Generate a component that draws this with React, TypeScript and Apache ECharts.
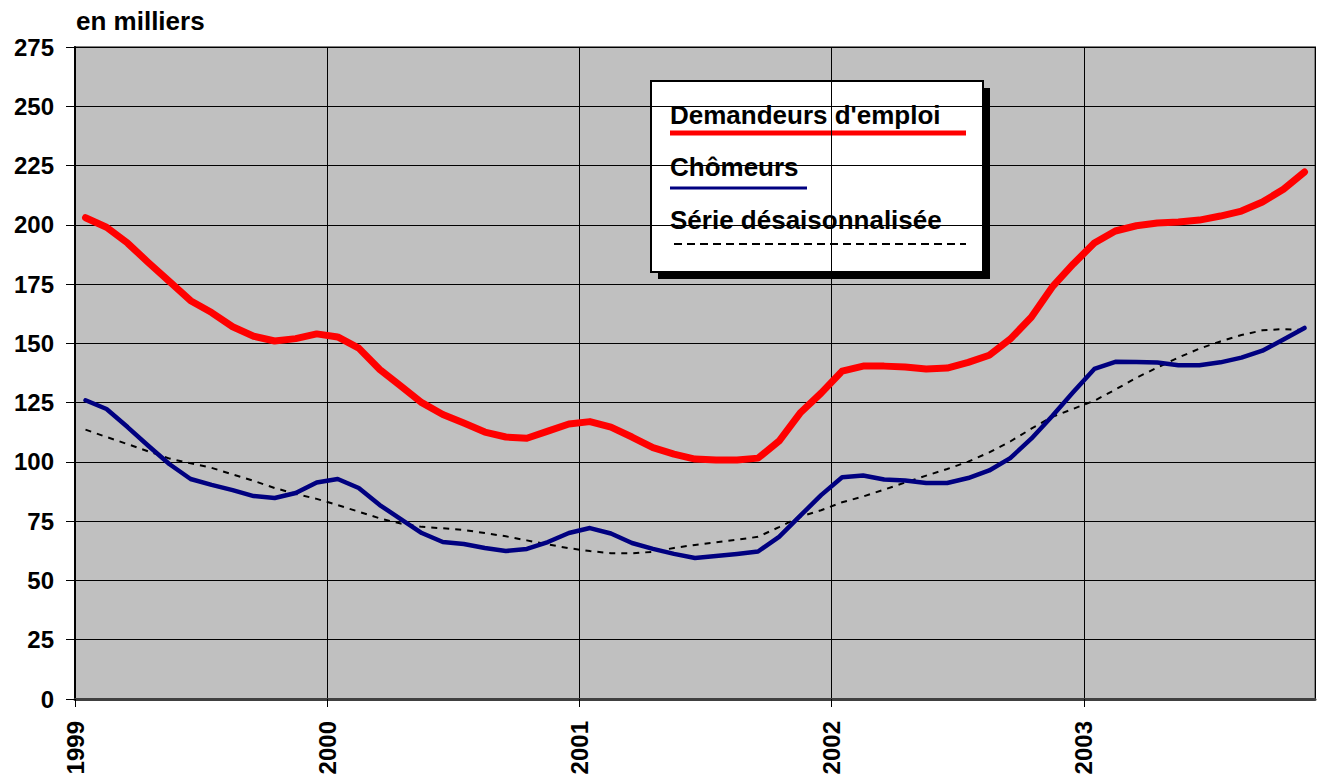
import React, { useEffect, useRef } from "react";
import * as echarts from "echarts";

const years = ["1999", "2000", "2001", "2002", "2003"];
const yTicks = [0, 25, 50, 75, 100, 125, 150, 175, 200, 225, 250, 275];

const demandeurs = [
  203, 199, 192.3, 184, 176, 168, 163, 157, 153, 151, 152, 154,
  152.7, 148, 139, 132, 125, 120, 116.4, 112.6, 110.5, 110, 113, 116,
  117, 114.7, 110.5, 106, 103.3, 101.2, 100.8, 100.8, 101.6, 108.8, 120.6, 129,
  138.3, 140.4, 140.4, 140, 139.2, 139.6, 142, 145, 151.8, 161, 173.8, 183.5,
  192.3, 197.4, 199.6, 200.8, 201.2, 202, 203.7, 205.8, 209.6, 215, 222.3,
];

const chomeurs = [
  126, 122.3, 114.7, 106.7, 99, 92.8, 90.3, 88.1, 85.6, 84.8, 86.9, 91.3,
  92.8, 89, 81.8, 75.9, 70, 66.2, 65.4, 63.7, 62.4, 63.3, 66.2, 70,
  72.1, 69.8, 65.8, 63.3, 61.2, 59.5, 60.3, 61.2, 62.2, 68.4, 77.2, 86,
  93.5, 94.3, 92.6, 92.2, 91.1, 91.1, 93.2, 96.4, 101.6, 109.8, 119.4, 129.5,
  139.2, 142.2, 142.1, 141.9, 140.8, 140.8, 142, 144, 146.9, 151.6, 156.5,
];

const desaison = [
  113.6, 110.5, 107.5, 104.4, 101.4, 99.4, 97.5, 94.7, 92, 89, 86.5, 84.4,
  81.8, 79, 76.2, 74, 72.6, 72, 71.3, 70, 68.6, 66.9, 65.2, 63.6,
  62.4, 61.5, 61.4, 62.1, 63.7, 65, 66.1, 67.2, 68.4, 72.5, 76.9, 79.6,
  83, 85.4, 88.3, 91.3, 94.2, 97, 100.1, 104, 108.6, 114, 119, 122.4,
  125.8, 130.5, 135.5, 139.8, 144, 147.8, 150.8, 153.5, 155.5, 156, 155.6,
];

const legendNames = ["Demandeurs d'emploi", "Chômeurs", "Série désaisonnalisée"];
const colors = ["#FF0000", "#000080", "#000000"];

const toPoints = (arr: number[]) => arr.map((v, i) => [i + 0.5, v]);

export default function App() {
  const ref = useRef<HTMLDivElement>(null);
  useEffect(() => {
    if (!ref.current) return;
    const chart = echarts.init(ref.current, null, { renderer: "svg" });
    const font = "'Liberation Sans', Arial, sans-serif";
    const nMonths = demandeurs.length;
    chart.setOption({
      animation: false,
      backgroundColor: "#FFFFFF",
      textStyle: { fontFamily: font },
      grid: {
        left: 75,
        top: 47,
        width: 1240,
        height: 652,
        show: true,
        backgroundColor: "#C0C0C0",
        borderColor: "#808080",
        borderWidth: 2,
      },
      xAxis: {
        type: "value",
        min: 0,
        max: nMonths,
        interval: 12,
        axisLine: { show: true, onZero: false, lineStyle: { color: "#404040", width: 3 } },
        axisTick: { show: true, length: 8, lineStyle: { color: "#000", width: 1 } },
        splitLine: { show: true, lineStyle: { color: "#000", width: 1 } },
        axisLabel: {
          rotate: 90,
          margin: 22,
          fontSize: 24,
          fontWeight: "bold",
          color: "#000",
          fontFamily: font,
          showMaxLabel: false,
          formatter: (v: number) =>
            v % 12 === 0 && v / 12 < years.length ? years[v / 12] : "",
        },
      },
      yAxis: {
        type: "value",
        min: yTicks[0],
        max: yTicks[yTicks.length - 1],
        interval: 25,
        axisLine: { show: true, lineStyle: { color: "#000", width: 2 } },
        axisTick: { show: true, length: 9, lineStyle: { color: "#000", width: 1 } },
        splitLine: { show: true, lineStyle: { color: "#000", width: 1 } },
        axisLabel: {
          margin: 21,
          fontSize: 24,
          fontWeight: "bold",
          color: "#000",
          fontFamily: font,
        },
      },
      series: [
        {
          name: legendNames[2],
          type: "line",
          data: toPoints(desaison),
          symbol: "none",
          lineStyle: { color: colors[2], width: 2, type: [6, 6] },
          z: 3,
        },
        {
          name: legendNames[1],
          type: "line",
          data: toPoints(chomeurs),
          symbol: "none",
          lineStyle: { color: colors[1], width: 4.5, cap: "round", join: "round" },
          z: 4,
        },
        {
          name: legendNames[0],
          type: "line",
          data: toPoints(demandeurs),
          symbol: "none",
          lineStyle: { color: colors[0], width: 7, cap: "round", join: "round" },
          z: 5,
        },
      ],
      graphic: [
        {
          type: "text",
          left: 76,
          top: 8,
          style: {
            text: "en milliers",
            font: `bold 26px ${font}`,
            fill: "#000",
          },
        },
        {
          type: "group",
          left: 650,
          top: 80,
          z: 100,
          children: [
            {
              type: "rect",
              shape: { x: 7, y: 7, width: 332, height: 191 },
              style: { fill: "#000" },
            },
            {
              type: "rect",
              shape: { x: 0, y: 0, width: 332, height: 191 },
              style: { fill: "#FFFFFF", stroke: "#000", lineWidth: 2 },
            },
            {
              type: "text",
              x: 19,
              y: 47,
              style: {
                text: legendNames[0],
                font: `bold 26px ${font}`,
                fill: "#000",
                textVerticalAlign: "bottom",
              },
            },
            {
              type: "line",
              shape: { x1: 19, y1: 52, x2: 315, y2: 52 },
              style: { stroke: colors[0], lineWidth: 5 },
            },
            {
              type: "text",
              x: 19,
              y: 99,
              style: {
                text: legendNames[1],
                font: `bold 26px ${font}`,
                fill: "#000",
                textVerticalAlign: "bottom",
              },
            },
            {
              type: "line",
              shape: { x1: 19, y1: 107, x2: 156, y2: 107 },
              style: { stroke: colors[1], lineWidth: 3 },
            },
            {
              type: "text",
              x: 19,
              y: 152,
              style: {
                text: legendNames[2],
                font: `bold 26px ${font}`,
                fill: "#000",
                textVerticalAlign: "bottom",
              },
            },
            {
              type: "line",
              shape: { x1: 23, y1: 163, x2: 315, y2: 163 },
              style: { stroke: colors[2], lineWidth: 2, lineDash: [8, 5] },
            },
          ],
        },
      ],
    });
    return () => chart.dispose();
  }, []);
  return (
    <div
      ref={ref}
      style={{ position: "fixed", left: 0, top: 0, width: 1320, height: 783 }}
    />
  );
}
